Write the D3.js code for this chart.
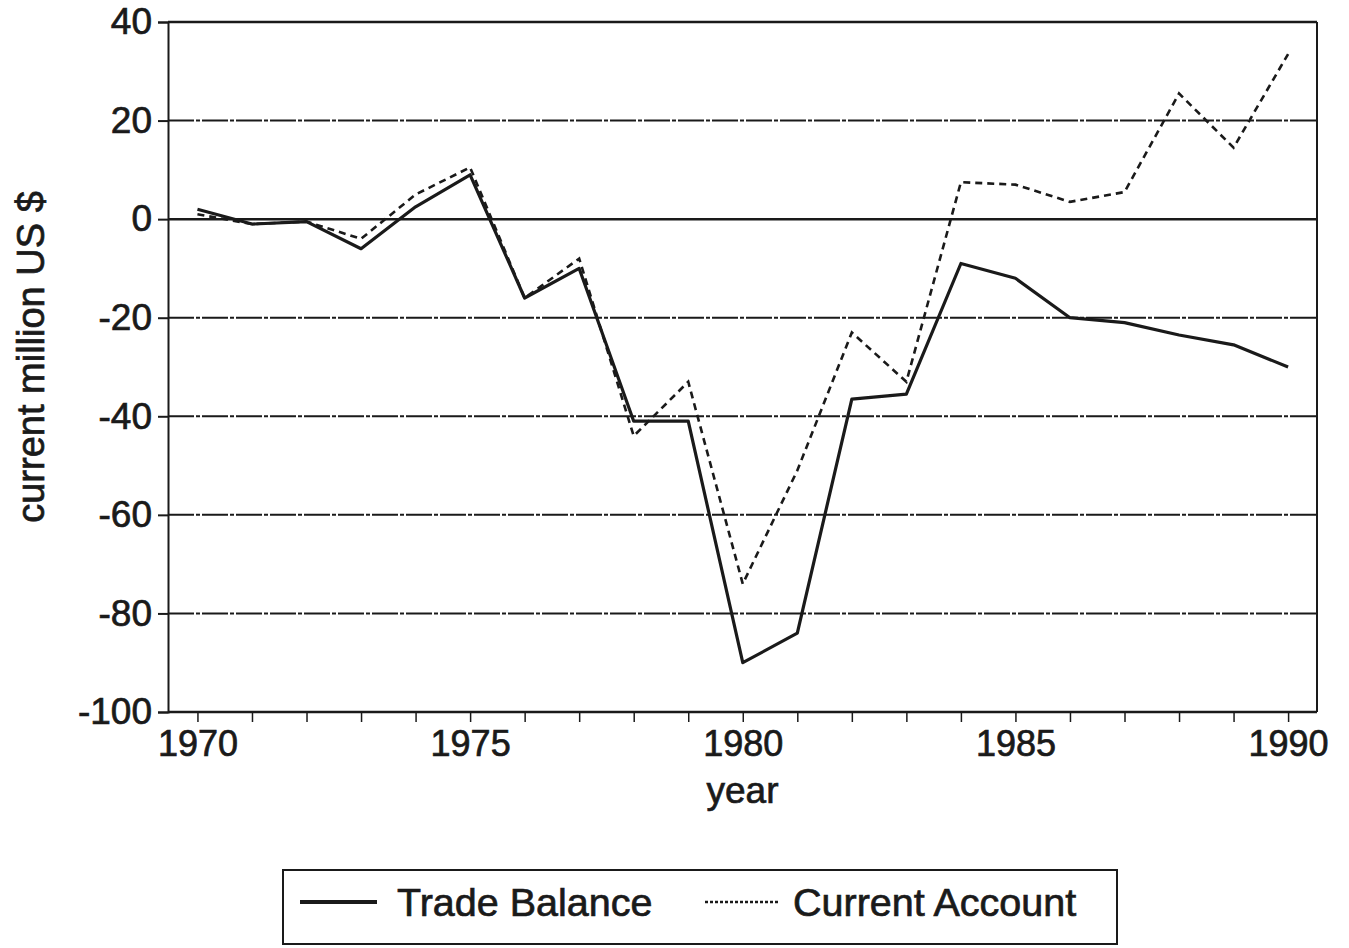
<!DOCTYPE html>
<html>
<head>
<meta charset="utf-8">
<script src="https://cdn.jsdelivr.net/npm/d3@7"></script>
<style>
  body { margin: 0; background: #fff; }
  text { font-family: "Liberation Sans", Arial, sans-serif; fill: #1a1a1a; stroke: #1a1a1a; stroke-width: 0.7px; }
</style>
</head>
<body>
<div id="chart"></div>
<script>
// data
var years = [1970, 1971, 1972, 1973, 1974, 1975, 1976, 1977, 1978, 1979, 1980,
             1981, 1982, 1983, 1984, 1985, 1986, 1987, 1988, 1989, 1990];
var tradeBalance = [2, -1, -0.5, -6, 2.5, 9, -16, -10, -41, -41, -90,
                    -84, -36.5, -35.5, -9, -12, -20, -21, -23.5, -25.5, -30];
var currentAccount = [1, -1, -0.5, -4, 5, 10.5, -16, -8, -44, -33, -74,
                      -51, -23, -33, 7.5, 7, 3.5, 5.5, 25.5, 14.5, 33.5];
var yTicks = [40, 20, 0, -20, -40, -60, -80, -100];
var xLabels = [1970, 1975, 1980, 1985, 1990];
var seriesNames = ["Trade Balance", "Current Account"];

var width = 1349, height = 948;
var plotLeft = 168, plotRight = 1317, plotTop = 22, plotBottom = 712;
var ink = "#1a1a1a";

var svg = d3.select("#chart")
            .append("svg")
            .attr("width", width)
            .attr("height", height);

var x = d3.scaleLinear()
          .domain([1969.46, 1990.53])
          .range([plotLeft, plotRight]);

var y = d3.scaleLinear()
          .domain([-100, 40])
          .range([plotBottom, plotTop]);

// horizontal grid lines
svg.append("g")
   .selectAll("line")
   .data(yTicks)
   .enter()
   .append("line")
   .attr("x1", plotLeft)
   .attr("x2", plotRight)
   .attr("y1", function(d){ return y(d); })
   .attr("y2", function(d){ return y(d); })
   .attr("stroke", ink)
   .attr("stroke-width", function(d){ return (d===0 || d===40) ? 2.5 : 2; })
   .attr("stroke-dasharray", function(d){ return (d===0 || d===40 || d===-100) ? null : "26,2,4,2"; });

// right frame
svg.append("line")
   .attr("x1", plotRight).attr("x2", plotRight)
   .attr("y1", plotTop).attr("y2", plotBottom)
   .attr("stroke", ink)
   .attr("stroke-width", 2);

var yAxis = d3.axisLeft(y)
              .tickValues(yTicks)
              .tickSize(10)
              .tickPadding(6)
              .tickFormat(function(d){ return d; });

var gy = svg.append("g")
            .attr("transform", "translate(" + plotLeft + ",0)")
            .call(yAxis);
gy.select(".domain").attr("stroke", ink).attr("stroke-width", 2);
gy.selectAll(".tick line").attr("stroke", ink).attr("stroke-width", 2);
gy.selectAll(".tick text")
  .attr("font-size", "37px")
  .attr("font-family", "Liberation Sans, Arial, sans-serif")
  .attr("fill", ink)
  .text(function(d){ return d < 0 ? "-" + Math.abs(d) : d; });

var xAxis = d3.axisBottom(x)
              .tickValues(years)
              .tickSize(10)
              .tickPadding(8)
              .tickFormat(function(d){ return xLabels.indexOf(d) >= 0 ? d : ""; });

var gx = svg.append("g")
            .attr("transform", "translate(0," + plotBottom + ")")
            .call(xAxis);
gx.select(".domain").remove();
gx.append("line")
  .attr("x1", plotLeft).attr("x2", plotRight)
  .attr("stroke", ink).attr("stroke-width", 2.5);
gx.selectAll(".tick line").attr("stroke", ink).attr("stroke-width", 1.5);
gx.selectAll(".tick text")
  .attr("font-size", "36px")
  .attr("font-family", "Liberation Sans, Arial, sans-serif")
  .attr("fill", ink);

// axis titles
svg.append("text")
   .attr("x", (plotLeft + plotRight) / 2)
   .attr("y", 803)
   .attr("text-anchor", "middle")
   .attr("font-size", "37px")
   .text("year");

svg.append("text")
   .attr("transform", "translate(44,357) rotate(-90)")
   .attr("text-anchor", "middle")
   .attr("font-size", "38px")
   .text("current million US $");

// series lines
var line = d3.line()
             .x(function(d, i){ return x(years[i]); })
             .y(function(d){ return y(d); });

svg.append("path")
   .datum(currentAccount)
   .attr("d", line)
   .attr("fill", "none")
   .attr("stroke", ink)
   .attr("stroke-width", 2.6)
   .attr("stroke-dasharray", "7,5");

svg.append("path")
   .datum(tradeBalance)
   .attr("d", line)
   .attr("fill", "none")
   .attr("stroke", ink)
   .attr("stroke-width", 3.2)
   .attr("stroke-linejoin", "round");

// legend
var legend = svg.append("g");
legend.append("rect")
      .attr("x", 283).attr("y", 870)
      .attr("width", 834).attr("height", 74)
      .attr("fill", "none")
      .attr("stroke", ink)
      .attr("stroke-width", 2);

legend.append("line")
      .attr("x1", 300).attr("x2", 377)
      .attr("y1", 902).attr("y2", 902)
      .attr("stroke", ink).attr("stroke-width", 4);
legend.append("text")
      .attr("x", 397).attr("y", 916)
      .attr("font-size", "39.5px")
      .text(seriesNames[0]);

legend.append("line")
      .attr("x1", 705).attr("x2", 780)
      .attr("y1", 902).attr("y2", 902)
      .attr("stroke", ink).attr("stroke-width", 2.5)
      .attr("stroke-dasharray", "3,2");
legend.append("text")
      .attr("x", 793).attr("y", 916)
      .attr("font-size", "39.5px")
      .text(seriesNames[1]);
</script>
</body>
</html>
